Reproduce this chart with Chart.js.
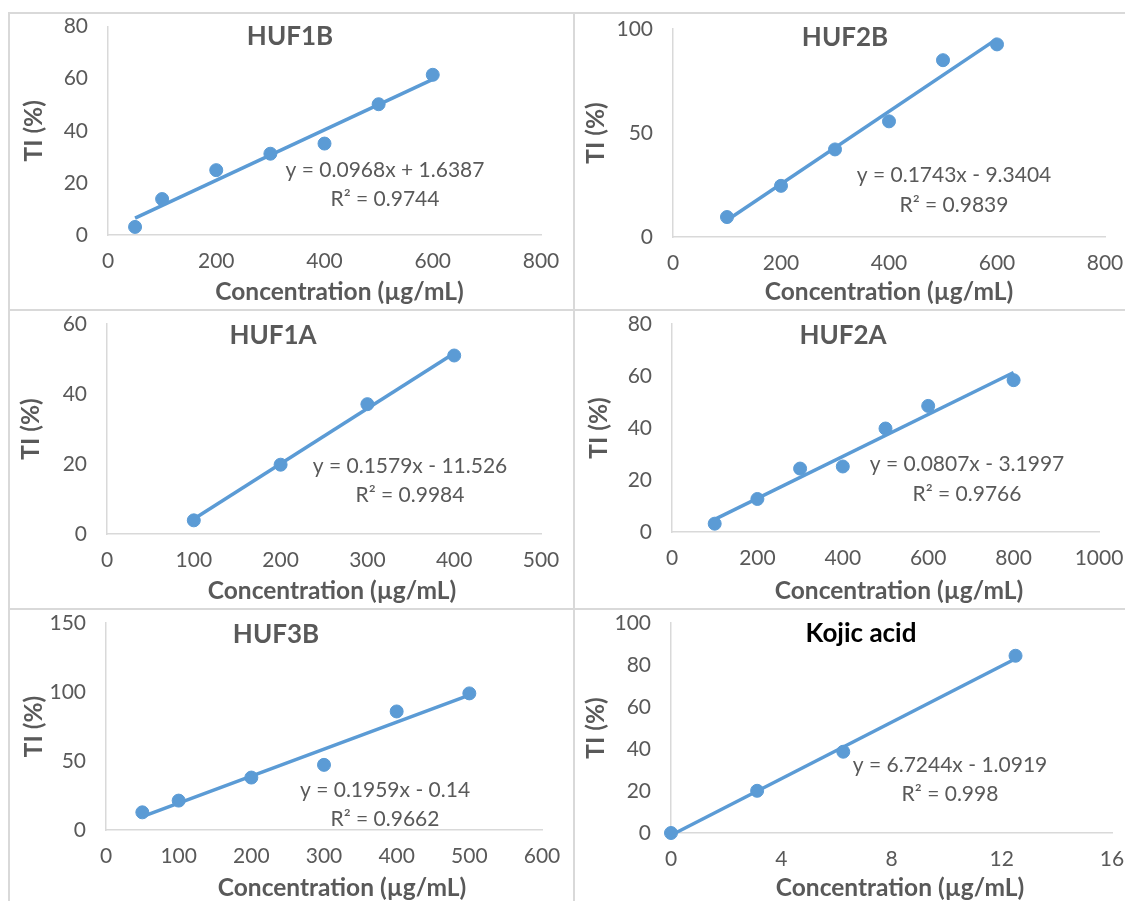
<!DOCTYPE html>
<html>
<head>
<meta charset="utf-8">
<script src="https://cdn.jsdelivr.net/npm/chart.js@4.4.1/dist/chart.umd.min.js"></script>
<style>
    body { margin: 0; background: #fff; }
    #sheet { position: relative; width: 1125px; height: 901px; overflow: hidden; background: #fff; }
    .rule { position: absolute; background: #d9d9d9; }
    canvas { position: absolute; }
</style>
</head>
<body>
<div id="sheet">
    <div class="rule" style="left:8px;top:12px;width:1117px;height:2px"></div>
    <div class="rule" style="left:8px;top:12px;width:2px;height:889px"></div>
    <div class="rule" style="left:573px;top:12px;width:2px;height:889px"></div>
    <div class="rule" style="left:8px;top:309px;width:1117px;height:2px"></div>
    <div class="rule" style="left:8px;top:608px;width:1117px;height:2px"></div>
</div>
<script>
// values
const huf1bConc = [50, 100, 200, 300, 400, 500, 600];
const huf1bTI = [3.1, 13.8, 24.9, 31.2, 35.1, 50.2, 61.5];
const huf1bTrendX = [50, 600];
const huf1bTrendY = [6.48, 59.72];

const huf2bConc = [100, 200, 300, 400, 500, 600];
const huf2bTI = [9.6, 24.6, 42.1, 55.6, 85.0, 92.6];
const huf2bTrendX = [100, 600];
const huf2bTrendY = [8.09, 95.24];

const huf1aConc = [100, 200, 300, 400];
const huf1aTI = [3.9, 19.8, 37.1, 51.0];
const huf1aTrendX = [100, 400];
const huf1aTrendY = [4.26, 51.63];

const huf2aConc = [100, 200, 300, 400, 500, 600, 800];
const huf2aTI = [3.2, 12.7, 24.4, 25.2, 39.8, 48.5, 58.4];
const huf2aTrendX = [100, 800];
const huf2aTrendY = [4.87, 61.36];

const huf3bConc = [50, 100, 200, 300, 400, 500];
const huf3bTI = [12.8, 21.3, 38.0, 47.2, 85.9, 99.0];
const huf3bTrendX = [50, 500];
const huf3bTrendY = [9.66, 97.81];

const kojicConc = [0, 3.125, 6.25, 12.5];
const kojicTI = [0, 20.1, 38.7, 84.4];
const kojicTrendX = [0, 12.5];
const kojicTrendY = [-1.09, 82.96];

const chartTitles = ['HUF1B', 'HUF2B', 'HUF1A', 'HUF2A', 'HUF3B', 'Kojic acid'];
const equations = [
    ['y = 0.0968x + 1.6387', 'R² = 0.9744'],
    ['y = 0.1743x - 9.3404', 'R² = 0.9839'],
    ['y = 0.1579x - 11.526', 'R² = 0.9984'],
    ['y = 0.0807x - 3.1997', 'R² = 0.9766'],
    ['y = 0.1959x - 0.14', 'R² = 0.9662'],
    ['y = 6.7244x - 1.0919', 'R² = 0.998']
];
const xAxisTitle = 'Concentration (µg/mL)';
const yAxisTitle = 'TI (%)';
// axis ranges: [max, step]
const xRanges = [[800, 200], [800, 200], [500, 100], [1000, 200], [600, 100], [16, 4]];
const yRanges = [[80, 20], [100, 50], [60, 20], [80, 20], [150, 50], [100, 20]];

const seriesX = [huf1bConc, huf2bConc, huf1aConc, huf2aConc, huf3bConc, kojicConc];
const seriesY = [huf1bTI, huf2bTI, huf1aTI, huf2aTI, huf3bTI, kojicTI];
const trendX = [huf1bTrendX, huf2bTrendX, huf1aTrendX, huf2aTrendX, huf3bTrendX, kojicTrendX];
const trendY = [huf1bTrendY, huf2bTrendY, huf1aTrendY, huf2aTrendY, huf3bTrendY, kojicTrendY];

// page layout (pixels): cell box, plot box, label spots
const layouts = [
    { cell: [10, 14, 563, 295], plot: [108, 26, 541, 235], yTitleX: 34.5, xTitle: [339.5, 292], title: [290, 37], eq: [385, 170, 199] },
    { cell: [575, 14, 550, 295], plot: [673, 29, 1105, 237], yTitleX: 596.5, xTitle: [889, 292], title: [845, 38], eq: [954, 175, 205] },
    { cell: [10, 311, 563, 297], plot: [107, 324, 541, 534], yTitleX: 31, xTitle: [332, 591], title: [273, 336], eq: [410, 466, 495] },
    { cell: [575, 311, 550, 297], plot: [672, 324, 1099, 532], yTitleX: 599, xTitle: [899, 591], title: [843, 336], eq: [967, 464, 494] },
    { cell: [10, 610, 563, 291], plot: [106, 623, 542, 830], yTitleX: 34.5, xTitle: [342, 888], title: [276, 635], eq: [385, 790, 819] },
    { cell: [575, 610, 550, 291], plot: [671, 623, 1112, 833], yTitleX: 596.5, xTitle: [900, 888], title: [861, 634], eq: [950, 765, 794] }
];

const BLUE = '#5b9bd5';
const GREY = '#595959';
const FONT = 'Lato';
const TICK_SIZE = 21;
const AXIS_TITLE_SIZE = 24.5;

const panelText = {
    id: 'panelText',
    afterDraw(chart, args, opts) {
        const ctx = chart.ctx;
        ctx.save();
        ctx.textAlign = 'center';
        ctx.textBaseline = 'middle';
        ctx.fillStyle = opts.titleColor;
        ctx.font = 'bold 26px ' + FONT;
        ctx.fillText(opts.title, opts.titleX, opts.titleY);
        ctx.fillStyle = GREY;
        ctx.font = 'bold ' + AXIS_TITLE_SIZE + 'px ' + FONT;
        ctx.fillText(xAxisTitle, opts.xTitleX, opts.xTitleY);
        ctx.font = '21px ' + FONT;
        ctx.fillText(opts.eq[0], opts.eqX, opts.eqY1);
        ctx.fillText(opts.eq[1], opts.eqX, opts.eqY2);
        ctx.restore();
    }
};

function buildChart(i) {
    const lay = layouts[i];
    const [cl, ct, cw, ch] = lay.cell;
    const canvas = document.createElement('canvas');
    canvas.width = cw;
    canvas.height = ch;
    canvas.style.left = cl + 'px';
    canvas.style.top = ct + 'px';
    canvas.style.width = cw + 'px';
    canvas.style.height = ch + 'px';
    document.getElementById('sheet').appendChild(canvas);

    const points = seriesX[i].map((x, k) => ({ x: x, y: seriesY[i][k] }));
    const trend = trendX[i].map((x, k) => ({ x: x, y: trendY[i][k] }));
    const titleFont = { family: FONT, size: AXIS_TITLE_SIZE, weight: 'bold' };
    const lh = AXIS_TITLE_SIZE * 1.2;
    const tickFont = { family: FONT, size: TICK_SIZE };

    new Chart(canvas.getContext('2d'), {
        type: 'scatter',
        data: {
            datasets: [{
                data: points,
                backgroundColor: BLUE,
                borderColor: BLUE,
                pointRadius: 6.5,
                pointHoverRadius: 6.5,
                showLine: false,
                clip: false
            }, {
                data: trend,
                borderColor: BLUE,
                borderWidth: 3.5,
                pointRadius: 0,
                showLine: true,
                fill: false,
                clip: false
            }]
        },
        options: {
            responsive: false,
            animation: false,
            devicePixelRatio: 1,
            layout: {
                padding: { left: 0, bottom: 0, top: lay.plot[1] - ct, right: cl + cw - lay.plot[2] }
            },
            scales: {
                x: {
                    type: 'linear',
                    min: 0,
                    max: xRanges[i][0],
                    ticks: { stepSize: xRanges[i][1], color: GREY, font: tickFont, padding: 0, maxRotation: 0,
                        callback: v => String(v) },
                    // invisible tick length used as the label gap
                    grid: { display: false, drawTicks: true, tickLength: 14 },
                    border: { color: '#d9d9d9', width: 1.5 },
                    title: { display: false },
                    afterFit: s => { s.height = ct + ch - lay.plot[3]; }
                },
                y: {
                    min: 0,
                    max: yRanges[i][0],
                    ticks: { stepSize: yRanges[i][1], color: GREY, font: tickFont, padding: 0,
                        callback: v => String(v) },
                    grid: { display: false, drawTicks: true, tickLength: 20 },
                    border: { color: '#d9d9d9', width: 1.5 },
                    title: {
                        display: true, text: yAxisTitle, color: GREY, font: titleFont,
                        padding: { top: lay.yTitleX - cl - lh / 2, bottom: 0 }
                    },
                    afterFit: s => { s.width = lay.plot[0] - cl; }
                }
            },
            plugins: {
                legend: { display: false },
                tooltip: { enabled: false },
                panelText: {
                    title: chartTitles[i],
                    titleColor: i === 5 ? '#000000' : GREY,
                    titleX: lay.title[0] - cl,
                    titleY: lay.title[1] - ct,
                    xTitleX: lay.xTitle[0] - cl,
                    xTitleY: lay.xTitle[1] - ct,
                    eq: equations[i],
                    eqX: lay.eq[0] - cl,
                    eqY1: lay.eq[1] - ct,
                    eqY2: lay.eq[2] - ct
                }
            }
        },
        plugins: [panelText]
    });
}

for (let i = 0; i < layouts.length; i++) {
    buildChart(i);
}
</script>
</body>
</html>
